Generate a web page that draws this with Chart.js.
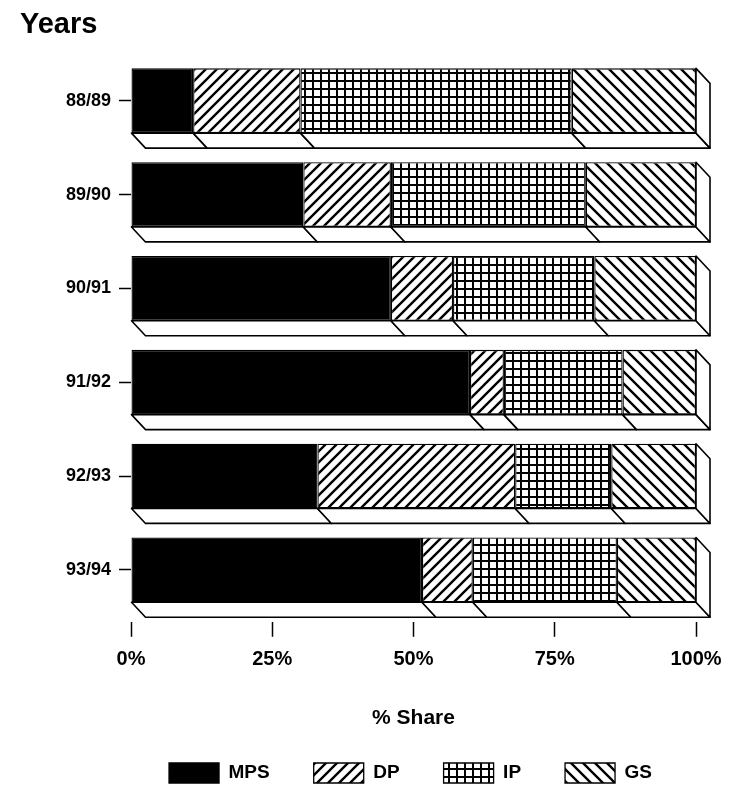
<!DOCTYPE html>
<html>
<head>
<meta charset="utf-8">
<script src="https://cdn.jsdelivr.net/npm/chart.js@4.4.1/dist/chart.umd.min.js"></script>
<style>
  html, body { margin: 0; padding: 0; background: #fff; }
  #wrap { width: 739px; height: 793px; }
</style>
</head>
<body>
<div id="wrap"><canvas id="myChart" width="739" height="793"></canvas></div>
<script>
// data (% share per year)
var years = ['88/89', '89/90', '90/91', '91/92', '92/93', '93/94'];
var mps = [11, 30.5, 46, 60, 33, 51.5];
var dp = [19, 15.5, 11, 6, 35, 9];
var ip = [48, 34.5, 25, 21, 17, 25.5];
var gs = [22, 19.5, 18, 13, 15, 14];
var xTicks = [0, 25, 50, 75, 100];

var FONT = '"Liberation Sans", Arial, sans-serif';
Chart.defaults.color = '#000';
Chart.defaults.font.family = FONT;

// hatch fills
const makePattern = (kind) => {
    var c = document.createElement('canvas');
    var g = c.getContext('2d');
    var s = 11;
    if (kind === 'grid') s = 8;
    if (kind === 'back') s = 12;
    c.width = s;
    c.height = s;
    g.fillStyle = '#fff';
    g.fillRect(0, 0, s, s);
    g.fillStyle = '#000';
    g.strokeStyle = '#000';
    g.lineWidth = 2.4;
    g.beginPath();
    if (kind === 'fwd') {
        g.moveTo(-1, s + 1); g.lineTo(s + 1, -1);
        g.moveTo(-2, 2); g.lineTo(2, -2);
        g.moveTo(s - 2, s + 2); g.lineTo(s + 2, s - 2);
        g.stroke();
    } else if (kind === 'back') {
        g.moveTo(-1, -1); g.lineTo(s + 1, s + 1);
        g.moveTo(s - 2, -2); g.lineTo(s + 2, 2);
        g.moveTo(-2, s - 2); g.lineTo(2, s + 2);
        g.stroke();
    } else {
        g.fillRect(0, 0, s, 2);
        g.fillRect(0, 0, 2, s);
    }
    return g.createPattern(c, 'repeat');
}

const makeSet = (label, data, fill) => {
    return {
        label: label,
        data: data,
        backgroundColor: fill,
        borderColor: '#000',
        borderWidth: 1.3,
        borderSkipped: false,
        barPercentage: 0.69,
        categoryPercentage: 1
    }
}

const poly = (ctx, pts) => {
    ctx.beginPath();
    ctx.moveTo(pts[0][0], pts[0][1]);
    for (var k = 1; k < pts.length; k++) ctx.lineTo(pts[k][0], pts[k][1]);
    ctx.closePath();
    ctx.fill();
    ctx.stroke();
}

// draws the bottom and right faces of each bar so it looks like a block
var depthPlugin = {
    id: 'depth',
    afterDatasetsDraw(chart, args, opts) {
        var ctx = chart.ctx;
        var n = chart.data.datasets.length;
        var dx = opts.dx, dy = opts.dy;
        ctx.save();
        ctx.fillStyle = '#fff';
        ctx.strokeStyle = '#000';
        ctx.lineWidth = 1.6;
        ctx.lineJoin = 'round';
        for (var i = 0; i < n; i++) {
            chart.getDatasetMeta(i).data.forEach(function (bar) {
                var p = bar.getProps(['x', 'y', 'base', 'height'], true);
                var l = Math.min(p.x, p.base), r = Math.max(p.x, p.base);
                var t = p.y - p.height / 2, b = p.y + p.height / 2;
                poly(ctx, [[l, b], [r, b], [r + dx, b + dy], [l + dx, b + dy]]);
                if (i === n - 1) {
                    poly(ctx, [[r, t], [r + dx, t + dy], [r + dx, b + dy], [r, b]]);
                }
            });
        }
        ctx.restore();
    }
};

var ctx = document.getElementById('myChart');

var myChart = new Chart(ctx, {
    type: 'bar',
    data: {
        labels: years,
        datasets: [
            makeSet('MPS', mps, '#000'),
            makeSet('DP', dp, makePattern('fwd')),
            makeSet('IP', ip, makePattern('grid')),
            makeSet('GS', gs, makePattern('back'))
        ]
    },
    plugins: [depthPlugin],
    options: {
        indexAxis: 'y',
        responsive: false,
        animation: false,
        layout: { padding: { left: 20, right: 43, top: 0, bottom: 0 } },
        plugins: {
            depth: { dx: 14, dy: 15 },
            tooltip: { enabled: false },
            title: {
                display: true,
                text: 'Years',
                align: 'start',
                font: { size: 29, weight: 'bold' },
                padding: { top: 8, bottom: 11 }
            },
            legend: {
                position: 'bottom',
                align: 'end',
                labels: {
                    boxWidth: 50,
                    boxHeight: 20,
                    padding: 44,
                    font: { size: 19, weight: 'bold' }
                }
            }
        },
        scales: {
            x: {
                stacked: true,
                min: 0,
                max: 100,
                afterBuildTicks: (scale) => {
                    scale.ticks = xTicks.map(v => ({ value: v }));
                },
                ticks: {
                    padding: 11,
                    font: { size: 20, weight: 'bold' },
                    callback: (v) => v + '%'
                },
                grid: {
                    drawOnChartArea: false,
                    tickLength: 20,
                    tickColor: '#000',
                    tickWidth: 1.5,
                    tickBorderDash: [15, 5],
                    tickBorderDashOffset: 15
                },
                border: { display: false },
                title: {
                    display: true,
                    text: '% Share',
                    font: { size: 21, weight: 'bold' },
                    padding: { top: 23, bottom: -12 }
                }
            },
            y: {
                stacked: true,
                afterFit: (scale) => { scale.width = 111; },
                ticks: {
                    padding: 8,
                    font: { size: 18, weight: 'bold' }
                },
                grid: {
                    offset: false,
                    drawOnChartArea: false,
                    tickLength: 12,
                    tickColor: '#000',
                    tickWidth: 1.5
                },
                border: { display: false }
            }
        }
    }
});
</script>
</body>
</html>
